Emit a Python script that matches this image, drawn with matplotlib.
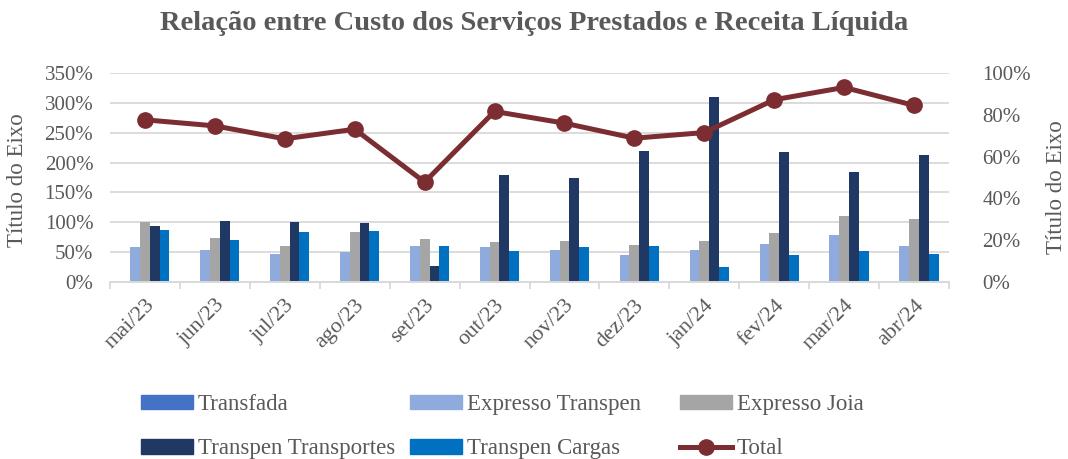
import matplotlib
matplotlib.use("Agg")
import matplotlib.pyplot as plt
import numpy as np
from matplotlib.lines import Line2D
from matplotlib.patches import Patch

months = ["mai/23", "jun/23", "jul/23", "ago/23", "set/23", "out/23",
          "nov/23", "dez/23", "jan/24", "fev/24", "mar/24", "abr/24"]

transfada = [0, 0, 0, 0, 0, 0, 0, 0, 0, 0, 0, 0]
expresso_transpen = [0.58, 0.53, 0.47, 0.51, 0.60, 0.58, 0.54, 0.46, 0.53, 0.63, 0.79, 0.60]
expresso_joia = [1.01, 0.73, 0.60, 0.84, 0.72, 0.67, 0.69, 0.62, 0.69, 0.82, 1.10, 1.06]
transpen_transportes = [0.93, 1.02, 1.01, 0.98, 0.26, 1.80, 1.75, 2.20, 3.09, 2.17, 1.85, 2.12]
transpen_cargas = [0.87, 0.71, 0.83, 0.85, 0.61, 0.52, 0.58, 0.61, 0.25, 0.46, 0.52, 0.47]
total = [0.776, 0.747, 0.685, 0.731, 0.478, 0.816, 0.760, 0.688, 0.715, 0.872, 0.931, 0.845]

left_ticks = [0, 0.5, 1.0, 1.5, 2.0, 2.5, 3.0, 3.5]
right_ticks = [0, 0.2, 0.4, 0.6, 0.8, 1.0]

series = [
    ("Transfada", transfada, "#4472C4"),
    ("Expresso Transpen", expresso_transpen, "#8FAADC"),
    ("Expresso Joia", expresso_joia, "#A5A5A5"),
    ("Transpen Transportes", transpen_transportes, "#203864"),
    ("Transpen Cargas", transpen_cargas, "#0070C0"),
]
line_color = "#7B2D31"
text_color = "#595959"
grid_color = "#D9D9D9"
FONT = "Liberation Serif"

plt.rcParams["font.family"] = [FONT, "DejaVu Serif"]

W, H = 1068, 459
fig = plt.figure(figsize=(W/100, H/100), dpi=100)
ax = fig.add_axes([110/W, 1 - 282/H, (949-110)/W, (282-73)/H])
ax2 = ax.twinx()

x = np.arange(len(months))
bw = 0.14
n = len(series)
for i, (name, vals, col) in enumerate(series):
    ax.bar(x + (i - (n - 1) / 2) * bw, vals, width=bw, color=col, zorder=2, label=name)

ax2.plot(x, total, color=line_color, lw=3.6, marker="o", ms=11, zorder=3, label="Total")

ax.set_xlim(-0.5, len(months) - 0.5)
ax.set_ylim(0, 3.5)
ax.set_yticks(left_ticks)
ax.set_yticklabels([f"{int(round(v*100))}%" for v in left_ticks])
ax2.set_ylim(0, 1.0)
ax2.set_yticks(right_ticks)
ax2.set_yticklabels([f"{int(round(v*100))}%" for v in right_ticks])

ax.grid(axis="y", color=grid_color, lw=1.3, zorder=0)
ax.set_axisbelow(True)
for a in (ax, ax2):
    for s in ("top", "left", "right"):
        a.spines[s].set_visible(False)
    a.spines["bottom"].set_color(grid_color)
    a.spines["bottom"].set_linewidth(1.3)
ax.tick_params(axis="y", length=0, labelsize=15, labelcolor=text_color, pad=12)
ax2.tick_params(axis="y", length=0, labelsize=15, labelcolor=text_color, pad=24)

ax.set_xticks(x)
ax.set_xticklabels(months, rotation=45, ha="right", rotation_mode="anchor",
                   fontsize=16, color=text_color)
ax.tick_params(axis="x", which="major", length=0, pad=10)
ax.set_xticks(np.arange(-0.5, len(months), 1.0), minor=True)
ax.tick_params(axis="x", which="minor", length=5, color=grid_color, width=1.3)

fig.text(17.5/W, 1 - 180/H, "Título do Eixo", rotation=90, ha="center", va="center",
         fontsize=16.5, color=text_color)
fig.text(1057/W, 1 - 187/H, "Título do Eixo", rotation=90, ha="center", va="center",
         fontsize=16.5, color=text_color)

fig.text(0.5, 1 - 23/H, "Relação entre Custo dos Serviços Prestados e Receita Líquida",
         ha="center", va="center", fontsize=20.5, fontweight="bold", color=text_color)

handles = [Patch(color=c) for _, _, c in series]
labels = [nm for nm, _, _ in series]
line_handle = Line2D([], [], color=line_color, lw=3.6, marker="o", ms=11)
groups = [
    ([handles[0], handles[3]], [labels[0], labels[3]], 141),
    ([handles[1], handles[4]], [labels[1], labels[4]], 410),
    ([handles[2], line_handle], [labels[2], "Total"], 680),
]
for hs, ls, xp in groups:
    fig.legend(hs, ls, loc="upper left", bbox_to_anchor=(xp/W, 1 - 394/H),
               frameon=False, fontsize=16.5, labelcolor=text_color,
               handlelength=2.27, handleheight=0.6, handletextpad=0.22,
               labelspacing=1.02, borderpad=0, borderaxespad=0)

fig.savefig("out.png", dpi=100)
